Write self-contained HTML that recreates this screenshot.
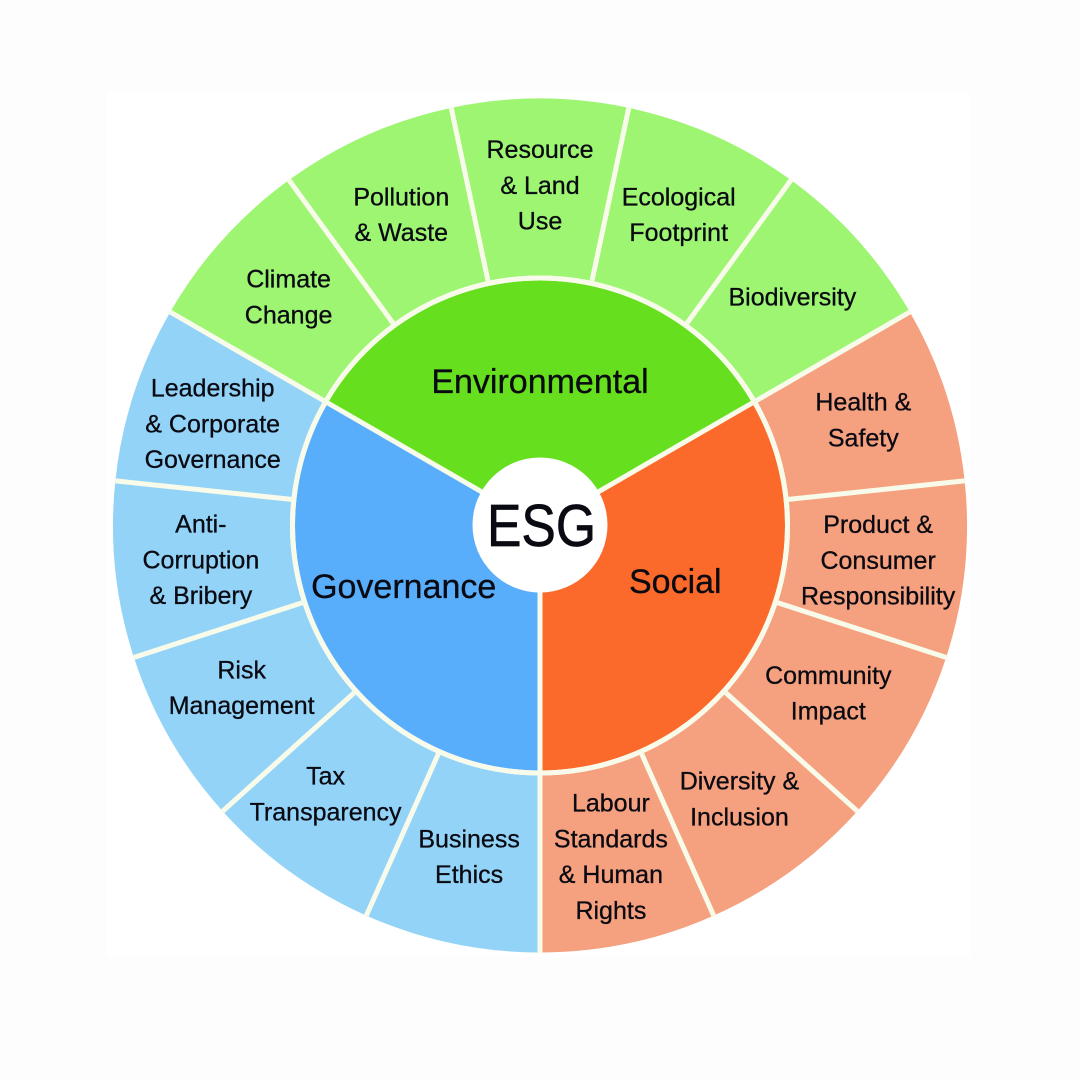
<!DOCTYPE html>
<html lang="en">
<head>
<meta charset="utf-8">
<title>ESG Sunburst</title>
<style>
  html, body { margin: 0; padding: 0; background: #fdfdfd; }
  #chart { display: block; width: 1080px; height: 1080px; }
  text { font-family: "Liberation Sans", sans-serif; fill: #0a0a12; stroke: #0a0a12; stroke-width: 0.3px; text-anchor: middle; }
</style>
</head>
<body>
<svg id="chart" xmlns="http://www.w3.org/2000/svg" width="1080" height="1080" viewBox="0 0 1080 1080">
  <rect x="107" y="92" width="863" height="865" fill="#ffffff"/>
  <g id="outer-ring"></g>
  <g id="inner-ring"></g>
  <g id="separators"></g>
  <circle cx="540" cy="525" r="67.5" fill="#ffffff"/>
  <text x="541.5" y="546" textLength="109" lengthAdjust="spacingAndGlyphs" style="font-size:59px;stroke-width:0.7px">ESG</text>
</svg>
<script>
// Chart data
const pillars = ['Environmental', 'Social', 'Governance'];
const environmentalTopics = ['Climate|Change', 'Pollution|& Waste', 'Resource|& Land|Use', 'Ecological|Footprint', 'Biodiversity'];
const socialTopics = ['Health &|Safety', 'Product &|Consumer|Responsibility', 'Community|Impact', 'Diversity &|Inclusion', 'Labour|Standards|& Human|Rights'];
const governanceTopics = ['Business|Ethics', 'Tax|Transparency', 'Risk|Management', 'Anti-|Corruption|& Bribery', 'Leadership|& Corporate|Governance'];
const environmentalWeights = [1, 1, 1, 1, 1];
const socialWeights = [1, 1, 1, 1, 1];
const governanceWeights = [1, 1, 1, 1, 1];

// Appearance and geometry
const topicsByPillar = [environmentalTopics, socialTopics, governanceTopics];
const weightsByPillar = [environmentalWeights, socialWeights, governanceWeights];
const innerColors = ['#66df1f', '#fb6a2a', '#59aefb'];
const outerColors = ['#9df572', '#f5a07e', '#93d3f7'];
const pillarNames = ['environmental', 'social', 'governance'];
const separator = '#f8fbea';
const NS = 'http://www.w3.org/2000/svg';
const cx = 540, cy = 525.5;
const rOuter = 427, rMid = 250, rInner = 245, rTopicLabel = 341, rPillarLabel = 147;
const startAngle = -60;

function polar(r, deg) {
  const a = deg * Math.PI / 180;
  return [cx + r * Math.sin(a), cy - r * Math.cos(a)];
}

function wedgePath(r0, r1, a0, a1) {
  const large = a1 - a0 > 180 ? 1 : 0;
  const p0 = polar(r1, a0), p1 = polar(r1, a1), p2 = polar(r0, a1), p3 = polar(r0, a0);
  return 'M' + p0[0] + ' ' + p0[1] + 'A' + r1 + ' ' + r1 + ' 0 ' + large + ' 1 ' + p1[0] + ' ' + p1[1] +
    'L' + p2[0] + ' ' + p2[1] + 'A' + r0 + ' ' + r0 + ' 0 ' + large + ' 0 ' + p3[0] + ' ' + p3[1] + 'Z';
}

function sum(list) {
  return list.reduce(function (t, v) { return t + v; }, 0);
}

function slug(s) {
  return s.toLowerCase().replace(/[^a-z]+/g, '-').replace(/^-|-$/g, '');
}

// Small optical nudges applied on top of the computed polar label position
function labelNudge(name) {
  switch (name) {
    case 'Environmental': return [0, 2.5];
    case 'Social': return [-1, 0.5];
    case 'Governance': return [0, 5.5];
    case 'Climate|Change': return [2, -0.5];
    case 'Biodiversity': return [-1, -0.5];
    case 'Health &|Safety': return [-1, -0.5];
    case 'Product &|Consumer|Responsibility': return [-1, -1];
    case 'Community|Impact': return [-7, -3];
    case 'Diversity &|Inclusion': return [-1, -2.5];
    case 'Labour|Standards|& Human|Rights': return [0, -2.5];
    case 'Business|Ethics': return [0, -2.5];
    case 'Tax|Transparency': return [-14, -7.5];
    case 'Risk|Management': return [-3, -8.5];
    case 'Anti-|Corruption|& Bribery': return [0, -1.5];
    case 'Leadership|& Corporate|Governance': return [-3, 3.5];
    default: return [0, 0.5];
  }
}

function addLabel(parent, lines, x, y, size, lineHeight) {
  const t = document.createElementNS(NS, 'text');
  
  
  t.style.fontSize = size + 'px';
  const top = y - (lines.length - 1) * lineHeight / 2 + size * 0.35;
  lines.forEach(function (line, i) {
    const span = document.createElementNS(NS, 'tspan');
    span.setAttribute('x', x);
    span.setAttribute('y', top + i * lineHeight);
    span.textContent = line;
    t.appendChild(span);
  });
  parent.appendChild(t);
}

function addSeparator(r0, r1, deg, width) {
  const a = polar(r0, deg), b = polar(r1, deg);
  const line = document.createElementNS(NS, 'line');
  
  
  line.setAttribute('x1', a[0]);
  line.setAttribute('y1', a[1]);
  line.setAttribute('x2', b[0]);
  line.setAttribute('y2', b[1]);
  line.setAttribute('stroke', separator);
  line.setAttribute('stroke-width', width);
  sepGroup.appendChild(line);
}

const outerGroup = document.getElementById('outer-ring');
const innerGroup = document.getElementById('inner-ring');
const sepGroup = document.getElementById('separators');
const pillarTotals = weightsByPillar.map(sum);
const grandTotal = sum(pillarTotals);
const labelQueue = [];
let pillarStart = startAngle;

const ringGap = document.createElementNS(NS, 'circle');


ringGap.setAttribute('cx', cx);
ringGap.setAttribute('cy', cy);
ringGap.setAttribute('r', (rInner + rMid) / 2);
ringGap.setAttribute('fill', 'none');
ringGap.setAttribute('stroke', separator);
ringGap.setAttribute('stroke-width', rMid - rInner);
sepGroup.appendChild(ringGap);

pillars.forEach(function (pillar, i) {
  const pillarSpan = 360 * pillarTotals[i] / grandTotal;
  const inner = document.createElementNS(NS, 'path');
  
  
  inner.setAttribute('d', wedgePath(0.01, rInner, pillarStart, pillarStart + pillarSpan));
  inner.setAttribute('fill', innerColors[i]);
  innerGroup.appendChild(inner);
  addSeparator(0, rInner, pillarStart, 5);

  const mid = pillarStart + pillarSpan / 2 + (i === 1 ? -8 : i === 2 ? 8 : 0);
  const lp = polar(rPillarLabel, mid);
  const pn = labelNudge(pillar);
  labelQueue.push({ lines: [pillar], x: lp[0] + pn[0], y: lp[1] + pn[1], size: 34, lh: 36 });

  let topicStart = pillarStart;
  topicsByPillar[i].forEach(function (topic, j) {
    const span = pillarSpan * weightsByPillar[i][j] / pillarTotals[i];
    const wedge = document.createElementNS(NS, 'path');
    
    
    wedge.setAttribute('d', wedgePath(rMid, rOuter, topicStart, topicStart + span));
    wedge.setAttribute('fill', outerColors[i]);
    outerGroup.appendChild(wedge);
    addSeparator(rMid, rOuter + 1, topicStart, 5);
    const tp = polar(rTopicLabel, topicStart + span / 2);
    const tn = labelNudge(topic);
    labelQueue.push({ lines: topic.split('|'), x: tp[0] + tn[0], y: tp[1] + tn[1], size: 25, lh: 35.8 });
    topicStart += span;
  });
  pillarStart += pillarSpan;
});

const labelGroup = document.createElementNS(NS, 'g');


document.getElementById('chart').appendChild(labelGroup);
labelQueue.forEach(function (l) {
  addLabel(labelGroup, l.lines, l.x, l.y, l.size, l.lh);
});
</script>
</body>
</html>
